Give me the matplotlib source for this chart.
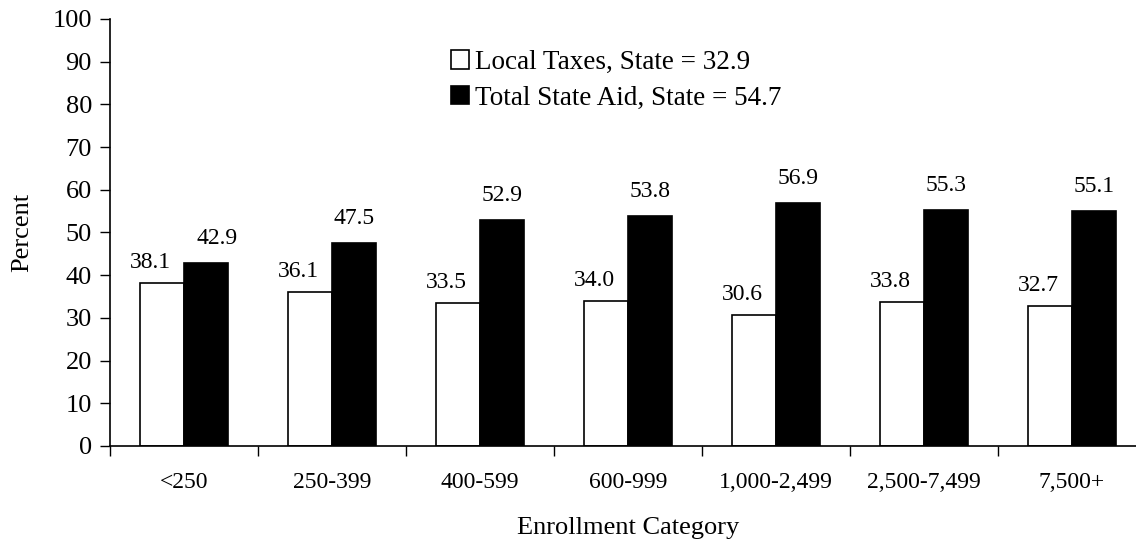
import numpy as np
import matplotlib.pyplot as plt

plt.rcParams['font.family'] = ['Liberation Serif', 'DejaVu Serif']

# Datos
categorias = ['<250', '250-399', '400-599', '600-999', '1,000-2,499', '2,500-7,499', '7,500+']
impuestos_locales = [38.1, 36.1, 33.5, 34.0, 30.6, 33.8, 32.7]
ayuda_estatal = [42.9, 47.5, 52.9, 53.8, 56.9, 55.3, 55.1]

W, H = 1136, 542
fig = plt.figure(figsize=(W / 100, H / 100), dpi=100)
# el eje se sale un poco del borde derecho, como en el original
ax = fig.add_axes([110 / W, 1 - 446 / H, 1036 / W, 427 / H])

x = np.arange(len(categorias)) + 0.5
ancho = 0.294
ax.bar(x - ancho / 2, impuestos_locales, ancho, color='white', edgecolor='black',
       linewidth=1.2, label='Local Taxes, State = 32.9')
ax.bar(x + ancho / 2, ayuda_estatal, ancho, color='black', edgecolor='black',
       linewidth=1.2, label='Total State Aid, State = 54.7')

fs_num = 17
pt = 72 / 100  # pixeles a puntos
for xi, v in zip(x - ancho / 2, impuestos_locales):
    ax.annotate(f'{v:.1f}', (xi, v), xytext=(-12 * pt, 10 * pt), textcoords='offset points',
                ha='center', va='bottom', fontsize=fs_num)
for i, (xi, v) in enumerate(zip(x + ancho / 2, ayuda_estatal)):
    dx = 11 if i == 0 else 0  # la primera etiqueta va corrida para no pisar la otra
    ax.annotate(f'{v:.1f}', (xi, v), xytext=(dx * pt, 14 * pt), textcoords='offset points',
                ha='center', va='bottom', fontsize=fs_num)

ax.set_xlim(0, 7)
ax.set_ylim(0, 100)
ax.set_yticks(range(0, 101, 10))
ax.set_xticks(range(0, 8))
ax.set_xticklabels([])
ax.set_xticks(x, minor=True)
ax.set_xticklabels(categorias, minor=True)
ax.tick_params(axis='x', which='minor', length=0, pad=19, labelsize=17)
ax.tick_params(axis='x', which='major', length=7, width=1, direction='out')
ax.tick_params(axis='y', length=7, width=1, pad=6, labelsize=19)

for s in ['top', 'right']:
    ax.spines[s].set_visible(False)
ax.spines['left'].set_linewidth(1.2)
ax.spines['bottom'].set_linewidth(1.2)

ax.set_ylabel('Percent', fontsize=19, labelpad=14)
ax.set_xlabel('Enrollment Category', fontsize=19, labelpad=17)

ax.legend(loc='upper left', bbox_to_anchor=(451 / W, 1 - 50 / H), bbox_transform=fig.transFigure,
          frameon=False, fontsize=19.5, handlelength=0.65, handleheight=0.65, handletextpad=0.25,
          borderpad=0, borderaxespad=0, labelspacing=0.4)

plt.savefig('out.png', dpi=100)
